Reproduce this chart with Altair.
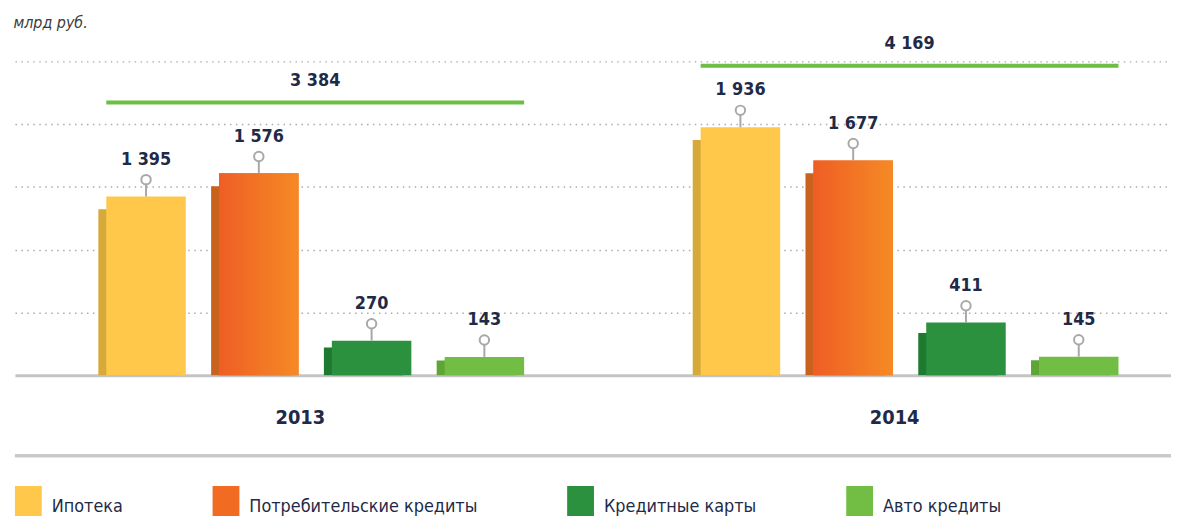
import altair as alt
import pandas as pd

# ---- data -------------------------------------------------------------
years = ["2013", "2014"]
categories = ["Ипотека", "Потребительские кредиты", "Кредитные карты", "Авто кредиты"]
values_2013 = [1395, 1576, 270, 143]
values_2014 = [1936, 1677, 411, 145]
totals = [3384, 4169]
unit_label = "млрд руб."

# ---- styles -----------------------------------------------------------
bar_colors = ["#FFC84A", "#F26B23", "#2B913E", "#72BE44"]
side_colors = ["#D6AA3A", "#C9621C", "#1F7A31", "#5EA536"]
FONT = "Liberation Sans Narrow, DejaVu Sans Condensed, Roboto, sans-serif"
TEXT = "#1E2A48"
W, H = 1164, 336


def fmt(v):
    return f"{v:,}".replace(",", " ")


rows = []
for yr, vals in zip(years, [values_2013, values_2014]):
    for c, v in zip(categories, vals):
        rows.append({"year": yr, "cat": c, "value": v, "label": fmt(v)})
df = pd.DataFrame(rows)
tot_df = pd.DataFrame({"year": years, "total": totals, "label": [fmt(t) for t in totals]})

x_scale = alt.Scale(domain=years, paddingInner=0.297, paddingOuter=0.121, align=0.635)
x_axis = alt.Axis(
    title=None, labelAngle=0, ticks=False, grid=False,
    domainColor="#C4C4C4", domainWidth=3,
    labelFont=FONT, labelFontSize=20, labelFontWeight="bold", labelColor=TEXT,
    labelPadding=33, labelOffset=-15,
)
x_enc = alt.X("year:N", sort=years, scale=x_scale, axis=x_axis)
xo_enc = alt.XOffset(
    "cat:N", sort=categories,
    scale=alt.Scale(domain=categories, paddingInner=0.295, paddingOuter=0),
)
# side faces: same band layout, shifted 8px to the left
xo_side = alt.XOffset(
    "cat:N", sort=categories,
    scale=alt.Scale(domain=categories, paddingInner=0.295, paddingOuter=0, range=[-8, 412.7]),
)
y_scale = alt.Scale(domain=[0, 2605], nice=False, zero=True)
y_axis = alt.Axis(
    title=None, labels=False, ticks=False, domain=False,
    values=[490, 980, 1470, 1960, 2450],
    gridDash=[1.5, 4.5], gridColor="#ABABAB", gridWidth=1.5,
)
y_enc = alt.Y("value:Q", scale=y_scale, axis=y_axis)

base = alt.Chart(df)

sides = base.transform_calculate(
    side_top="max(datum.value - 100, datum.value * 0.8)"
).mark_bar().encode(
    x=x_enc, xOffset=xo_side,
    y=alt.Y("side_top:Q", scale=y_scale, axis=y_axis),
    color=alt.Color("cat:N", scale=alt.Scale(domain=categories, range=side_colors), legend=None),
)

bars = base.mark_bar().encode(
    x=x_enc, xOffset=xo_enc, y=y_enc,
    color=alt.Color(
        "cat:N",
        scale=alt.Scale(domain=categories, range=bar_colors),
        legend=alt.Legend(
            title=None, orient="none", legendX=0, legendY=455, direction="horizontal",
            symbolType="M-1,-1.56H1V1.56H-1Z", symbolSize=729, symbolStrokeWidth=0,
            symbolOpacity=1,
            labelFont=FONT, labelFontSize=18, labelColor=TEXT, labelOffset=10,
            columnPadding=90, labelLimit=400,
        ),
    ),
)

orange_grad = base.transform_filter(alt.datum.cat == categories[1]).mark_bar(
    color=alt.Gradient(
        gradient="linear",
        stops=[alt.GradientStop(color="#EF5E25", offset=0), alt.GradientStop(color="#F58A24", offset=1)],
        x1=0, x2=1, y1=0, y2=0,
    )
).encode(x=x_enc, xOffset=xo_enc, y=y_enc)

stems = base.mark_rule(color="#A8A8A8", strokeWidth=2, yOffset=-12, y2Offset=0).encode(
    x=x_enc, xOffset=xo_enc, y=y_enc, y2="value:Q"
)

pins = base.mark_point(
    shape="circle", filled=True, fill="white", stroke="#A8A8A8", strokeWidth=2,
    size=90, opacity=1, yOffset=-17,
).encode(x=x_enc, xOffset=xo_enc, y=y_enc)

labels = base.mark_text(
    dy=-37, baseline="middle", font=FONT, fontSize=18, fontWeight="bold", color=TEXT
).encode(x=x_enc, xOffset=xo_enc, y=y_enc, text="label:N")

main_group = alt.layer(bars, orange_grad, stems, pins, labels)
bar_layer = alt.layer(sides, main_group).resolve_scale(color="independent", xOffset="independent")

tot_y = alt.Y("total:Q", scale=alt.Scale(domain=[-2408, 4682], nice=False, zero=False), axis=None)
tot_base = alt.Chart(tot_df)
tot_line = tot_base.mark_rect(color="#6DBE45", yOffset=-2, y2Offset=2).encode(
    x=x_enc, y=tot_y, y2="total:Q"
)
tot_text = tot_base.mark_text(
    dy=-22, baseline="middle", font=FONT, fontSize=18, fontWeight="bold", color=TEXT
).encode(x=x_enc, y=tot_y, text="label:N")
tot_layer = alt.layer(tot_line, tot_text)

separator = alt.Chart(tot_df).mark_rule(color="#C8C8C8", strokeWidth=3).encode(
    y=alt.value(H + 81), x=alt.value(0), x2=alt.value(W)
)

chart = (
    alt.layer(bar_layer, tot_layer, separator)
    .resolve_scale(y="independent")
    .properties(
        width=W, height=H,
        title=alt.TitleParams(
            unit_label, anchor="start", font=FONT, fontSize=16, fontStyle="italic",
            fontWeight="normal", color="#3C3C3C", offset=4,
        ),
        autosize=alt.AutoSizeParams(type="none"),
        padding={"left": 7, "top": 32, "right": 0, "bottom": 140},
    )
    .configure_view(stroke=None)
)

chart.save("out.html", embed_options={"renderer": "svg", "actions": False})
